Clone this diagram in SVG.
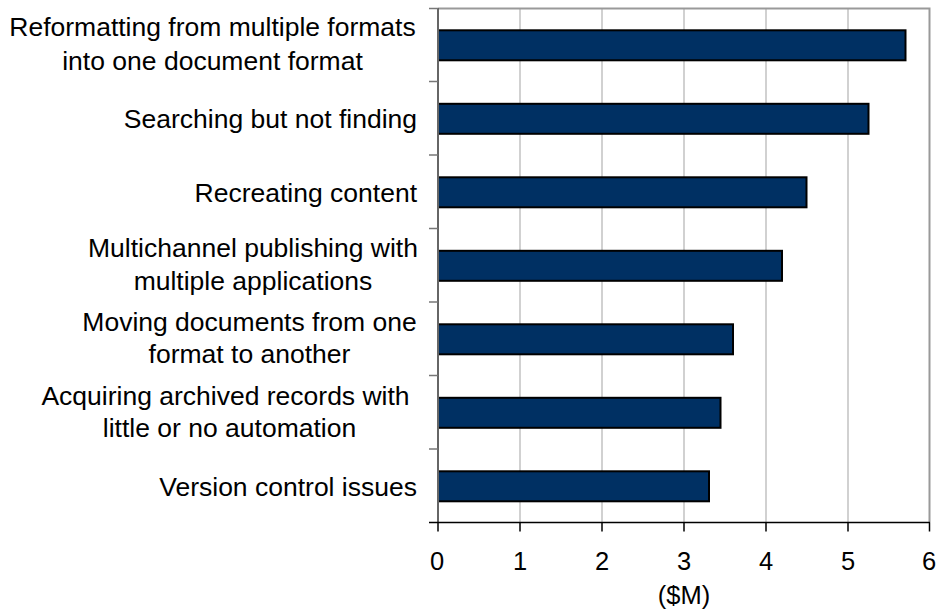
<svg xmlns="http://www.w3.org/2000/svg" width="939" height="612" viewBox="0 0 939 612">
<style>
.lbl{font-family:"Liberation Sans",Arial,sans-serif;font-size:26.5px;fill:#000}
.tick{font-family:"Liberation Sans",Arial,sans-serif;font-size:25.5px;fill:#000;text-anchor:middle}
.grid{stroke:#b3b3b3;stroke-width:1.2}
.bar{fill:#003063;stroke:#000;stroke-width:2}
.ytick{stroke:#777;stroke-width:1.5}
.xtick{stroke:#000;stroke-width:1.5}
</style>
<rect width="939" height="612" fill="#fff"/>
<g id="grid">
<line class="grid" x1="520" y1="8" x2="520" y2="522.5"/>
<line class="grid" x1="602" y1="8" x2="602" y2="522.5"/>
<line class="grid" x1="684" y1="8" x2="684" y2="522.5"/>
<line class="grid" x1="766" y1="8" x2="766" y2="522.5"/>
<line class="grid" x1="848" y1="8" x2="848" y2="522.5"/>
<path d="M438 8.5 H929.5 V522.5" fill="none" stroke="#999" stroke-width="2"/>
</g>
<g id="bars">
<rect id="bar1" class="bar" x="438" y="30.3" width="467.5" height="30"/>
<rect id="bar2" class="bar" x="438" y="103.8" width="430.5" height="30"/>
<rect id="bar3" class="bar" x="438" y="177.3" width="368.5" height="30"/>
<rect id="bar4" class="bar" x="438" y="250.8" width="344" height="30"/>
<rect id="bar5" class="bar" x="438" y="324.3" width="295" height="30"/>
<rect id="bar6" class="bar" x="438" y="397.8" width="282.5" height="30"/>
<rect id="bar7" class="bar" x="438" y="471.3" width="271" height="30"/>
</g>
<g id="axes">
<line x1="438" y1="8" x2="438" y2="523" stroke="#666" stroke-width="2"/>
<line x1="429" y1="522.5" x2="930" y2="522.5" stroke="#000" stroke-width="1.5"/>
<line class="ytick" x1="429" y1="8.5" x2="438" y2="8.5"/>
<line class="ytick" x1="429" y1="81.5" x2="438" y2="81.5"/>
<line class="ytick" x1="429" y1="155" x2="438" y2="155"/>
<line class="ytick" x1="429" y1="228.5" x2="438" y2="228.5"/>
<line class="ytick" x1="429" y1="302" x2="438" y2="302"/>
<line class="ytick" x1="429" y1="375.5" x2="438" y2="375.5"/>
<line class="ytick" x1="429" y1="449" x2="438" y2="449"/>
<line class="xtick" x1="438" y1="522.5" x2="438" y2="531.5"/>
<line class="xtick" x1="520" y1="522.5" x2="520" y2="531.5"/>
<line class="xtick" x1="602" y1="522.5" x2="602" y2="531.5"/>
<line class="xtick" x1="684" y1="522.5" x2="684" y2="531.5"/>
<line class="xtick" x1="766" y1="522.5" x2="766" y2="531.5"/>
<line class="xtick" x1="848" y1="522.5" x2="848" y2="531.5"/>
<line class="xtick" x1="929.5" y1="522.5" x2="929.5" y2="531.5"/>
</g>
<g id="xlabels">
<text class="tick" x="437" y="570">0</text>
<text class="tick" x="520" y="570">1</text>
<text class="tick" x="602" y="570">2</text>
<text class="tick" x="684" y="570">3</text>
<text class="tick" x="766" y="570">4</text>
<text class="tick" x="848" y="570">5</text>
<text class="tick" x="929" y="570">6</text>
<text class="tick" x="684" y="604">($M)</text>
</g>
<g id="ylabels" class="lbl" text-anchor="middle">
<text class="lbl" x="212.5" y="36">Reformatting from multiple formats</text>
<text class="lbl" x="212.5" y="70">into one document format</text>
<text class="lbl" x="417" y="128.3" text-anchor="end">Searching but not finding</text>
<text class="lbl" x="417" y="201.8" text-anchor="end">Recreating content</text>
<text class="lbl" x="253" y="256.7">Multichannel publishing with</text>
<text class="lbl" x="253" y="289.5">multiple applications</text>
<text class="lbl" x="249.5" y="330.7">Moving documents from one</text>
<text class="lbl" x="249.5" y="363.3">format to another</text>
<text class="lbl" x="225.5" y="405">Acquiring archived records with</text>
<text class="lbl" x="229.5" y="437">little or no automation</text>
<text class="lbl" x="417" y="495.5" text-anchor="end">Version control issues</text>
</g>
</svg>
